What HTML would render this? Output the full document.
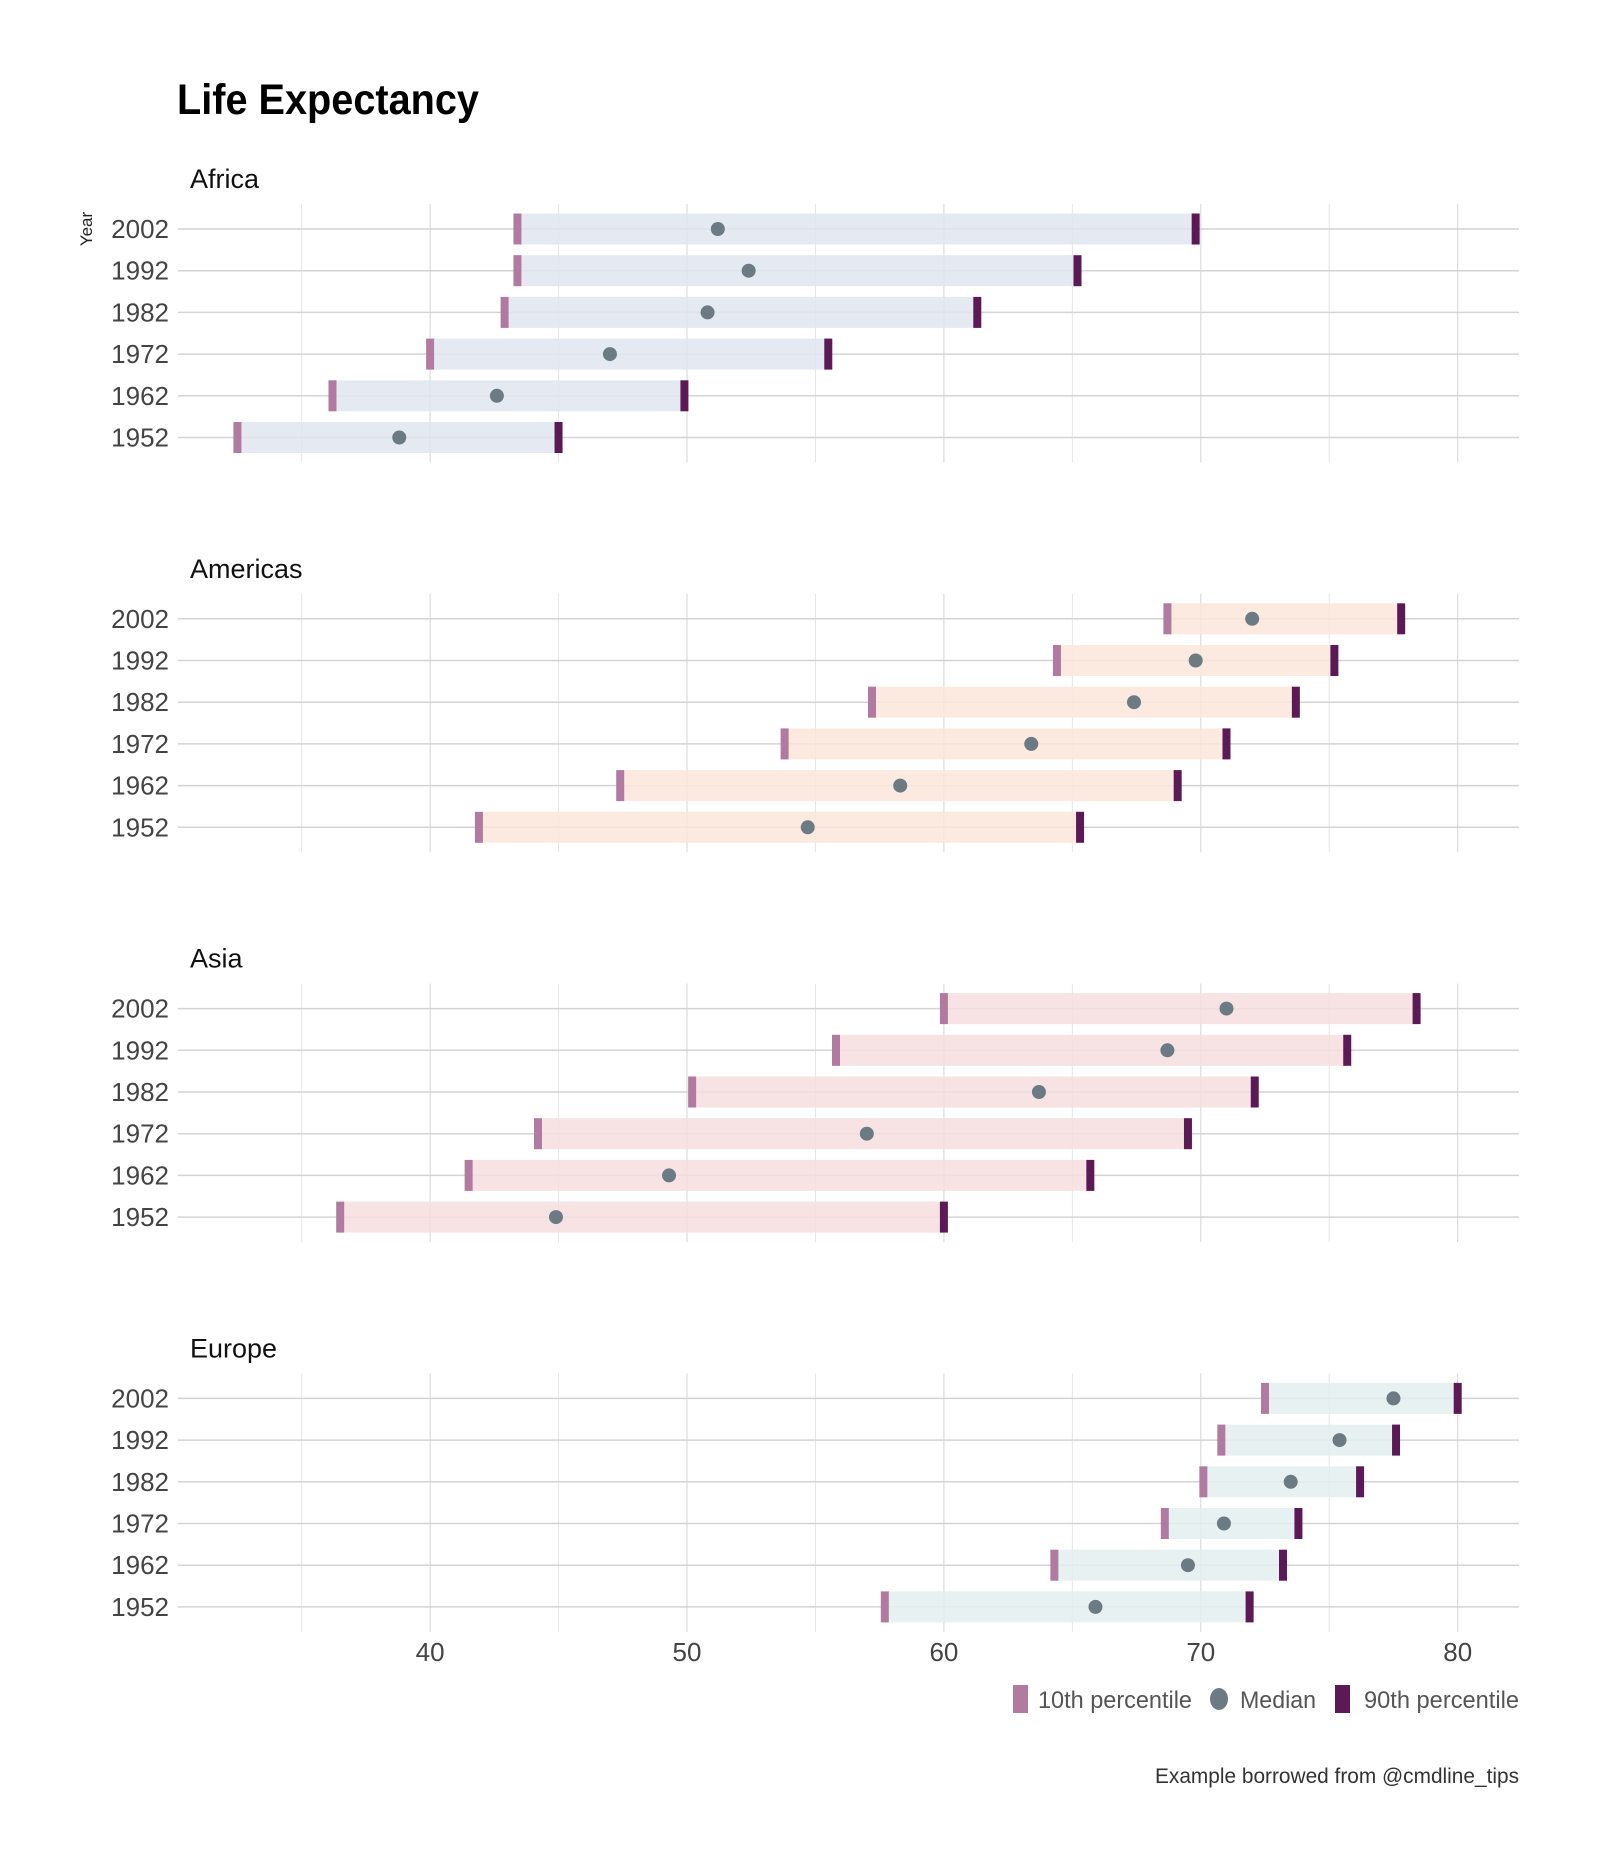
<!DOCTYPE html>
<html><head><meta charset="utf-8"><style>
html,body{margin:0;padding:0;background:#fff;}
svg{display:block;font-family:"Liberation Sans Narrow","Liberation Sans",sans-serif;}
</style></head><body>
<svg id="chart" width="1600" height="1866" viewBox="0 0 1600 1866" xmlns="http://www.w3.org/2000/svg">
<text x="177" y="114" font-size="43" font-weight="bold" fill="#000" textLength="302" lengthAdjust="spacingAndGlyphs">Life Expectancy</text>
<text transform="translate(92,229) rotate(-90)" text-anchor="middle" font-size="17" fill="#222">Year</text>
<g id="panels"></g>
<g id="xaxis"></g>
<g>
<rect x="1013" y="1685" width="15" height="28" fill="#b07aa1"/>
<text x="1038" y="1708" font-size="24" fill="#555" textLength="154" lengthAdjust="spacingAndGlyphs">10th percentile</text>
<ellipse cx="1219" cy="1699" rx="9" ry="11" fill="#6b7a83"/>
<text x="1240" y="1708" font-size="24" fill="#555" textLength="76" lengthAdjust="spacingAndGlyphs">Median</text>
<rect x="1335" y="1685" width="15" height="28" fill="#5b1a55"/>
<text x="1519" y="1708" text-anchor="end" font-size="24" fill="#555" textLength="155" lengthAdjust="spacingAndGlyphs">90th percentile</text>
</g>
<text x="1519" y="1783" text-anchor="end" font-size="21" fill="#333" textLength="364" lengthAdjust="spacingAndGlyphs">Example borrowed from @cmdline_tips</text>
</svg>
<script>
const regions = ["Africa","Americas","Asia","Europe"];
const years = [2002,1992,1982,1972,1962,1952];
const p10Africa = [43.4,43.4,42.9,40.0,36.2,32.5];
const medAfrica = [51.2,52.4,50.8,47.0,42.6,38.8];
const p90Africa = [69.8,65.2,61.3,55.5,49.9,45.0];
const p10Americas = [68.7,64.4,57.2,53.8,47.4,41.9];
const medAmericas = [72.0,69.8,67.4,63.4,58.3,54.7];
const p90Americas = [77.8,75.2,73.7,71.0,69.1,65.3];
const p10Asia = [60.0,55.8,50.2,44.2,41.5,36.5];
const medAsia = [71.0,68.7,63.7,57.0,49.3,44.9];
const p90Asia = [78.4,75.7,72.1,69.5,65.7,60.0];
const p10Europe = [72.5,70.8,70.1,68.6,64.3,57.7];
const medEurope = [77.5,75.4,73.5,70.9,69.5,65.9];
const p90Europe = [80.0,77.6,76.2,73.8,73.2,71.9];
const xTicks = [40,50,60,70,80];
const xGrid = [35,40,45,50,55,60,65,70,75,80];

const p10All=[p10Africa,p10Americas,p10Asia,p10Europe];
const medAll=[medAfrica,medAmericas,medAsia,medEurope];
const p90All=[p90Africa,p90Americas,p90Asia,p90Europe];
const fills=["#e0e5ee","#fbe6da","#f6dedf","#e3efef"];
const NS="http://www.w3.org/2000/svg";
const X=v=>430.1+(v-40)*25.69;
const rowY=(p,i)=>229+p*389.8+i*41.7;
function mk(tag,attrs,parent){const e=document.createElementNS(NS,tag);for(const k in attrs)e.setAttribute(k,attrs[k]);parent.appendChild(e);return e;}
const root=document.getElementById('panels');
regions.forEach((r,p)=>{
  const g=mk('g',{},root);
  
  
  const top=rowY(p,0)-25, bot=rowY(p,5)+25;
  const lab=mk('text',{x:190,y:rowY(p,0)-41,'font-size':27,fill:'#111'},g);
  lab.textContent=r;
  
  
  xGrid.forEach(v=>{
    const l=mk('line',{x1:X(v),x2:X(v),y1:top,y2:bot,stroke:v%10===0?'#d6d6d6':'#e6e6e6','stroke-width':1},g);
    
    
  });
  years.forEach((yr,i)=>{
    const y=rowY(p,i);
    const gl=mk('line',{x1:178,x2:1519,y1:y,y2:y,stroke:'#d4d4d4','stroke-width':1.5},g);
    
    
    const t=mk('text',{x:169,y:y+9,'text-anchor':'end','font-size':26,fill:'#444'},g);
    t.textContent=yr;
    
    
    const a=p10All[p][i],m=medAll[p][i],b=p90All[p][i];
    const bar=mk('rect',{x:X(a),y:y-15.5,width:X(b)-X(a),height:31,fill:fills[p],'fill-opacity':0.85},g);
    
    
    const t1=mk('rect',{x:X(a)-4,y:y-15.5,width:8,height:31,fill:'#b07aa1'},g);
    
    
    const t9=mk('rect',{x:X(b)-4,y:y-15.5,width:8,height:31,fill:'#5b1a55'},g);
    
    
    const c=mk('circle',{cx:X(m),cy:y,r:7,fill:'#6b7a83'},g);
    
    
  });
});
const xa=document.getElementById('xaxis');


xTicks.forEach(v=>{
  const t=mk('text',{x:X(v),y:1661,'text-anchor':'middle','font-size':26,fill:'#444'},xa);
  t.textContent=v;
  
  
});
</script>
</body></html>
